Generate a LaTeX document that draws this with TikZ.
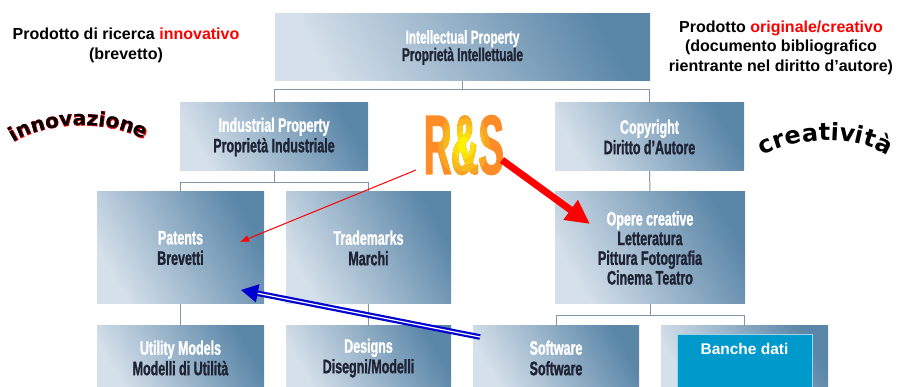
\documentclass[tikz,border=0pt]{standalone}
\usepackage{fontspec}
\setmainfont{Liberation Sans}
\newfontfamily\boxfont{Liberation Sans Bold}[FakeStretch=0.64,FakeBold=1.2]
\newfontfamily\rsfont{Liberation Sans Bold}[FakeStretch=0.45,FakeBold=1.5]
\newfontfamily\wordfont{DejaVu Sans Bold}
\newfontfamily\wordedge{DejaVu Sans Bold}[FakeBold=3]
\usetikzlibrary{arrows.meta,calc,decorations.text,shadings}

\definecolor{boxlight}{HTML}{D5E0EA}
\definecolor{boxdark}{HTML}{5A86A8}
\definecolor{linec}{HTML}{7E96A8}
\definecolor{navytext}{HTML}{1F2333}
\definecolor{dbblue}{HTML}{0099CC}
\definecolor{rsorange}{HTML}{FF8C26}
\definecolor{arrowblue}{HTML}{0000D0}

\newcommand{\eng}[1]{{\color{white}#1}}

\begin{document}
\begin{tikzpicture}[x=1pt,y=1pt,
  ipbox/.style={top color=boxdark, bottom color=boxlight, shading angle=-60, inner sep=0,
    align=center, text=navytext, font=\boxfont\fontsize{19.5}{20.5}\selectfont},
  treeline/.style={draw=linec, line width=1pt},
  note/.style={align=center, font=\bfseries\fontsize{16}{19.5}\selectfont},
  rstext/.style={inner sep=0, font=\rsfont\fontsize{84}{84}\selectfont},
  thinred/.style={draw=red, line width=1pt, -{Latex[length=9pt,width=7pt]}},
  thickred/.style={draw=red, line width=7pt, -{Triangle[length=24pt,width=23pt]}},
  bluearrow/.style={draw=arrowblue, line width=2.2pt, double=white, double distance=1.2pt,
    -{Triangle[length=17pt,width=18pt]}}]
\clip (0,0) rectangle (897,-387);

% level 1 and 2
\node[ipbox, minimum width=375, minimum height=67, font=\boxfont\fontsize{18.5}{17.5}\selectfont]
  (ip) at (462.5,-47.5) {\eng{Intellectual Property}\\Proprietà Intellettuale};
\node[ipbox, minimum width=188, minimum height=68] (ind) at (274,-137) {\eng{Industrial Property}\\Proprietà Industriale};
\node[ipbox, minimum width=189, minimum height=68] (copy) at (649.5,-137) {\eng{Copyright}\\Diritto d’Autore};

% level 3
\node[ipbox, minimum width=167, minimum height=112] (pat) at (180.5,-248) {\eng{Patents}\\Brevetti};
\node[ipbox, minimum width=165, minimum height=112] (tm) at (368.5,-248) {\eng{Trademarks}\\Marchi};
\node[ipbox, minimum width=190, minimum height=112, font=\boxfont\fontsize{19.5}{19.7}\selectfont] (op) at (650,-248)
  {\eng{Opere creative}\\Letteratura\\Pittura Fotografia\\Cinema Teatro};

% level 4
\node[ipbox, minimum width=167, minimum height=64] (util) at (180.5,-358) {\eng{Utility Models}\\Modelli di Utilità};
\node[ipbox, minimum width=165, minimum height=64] (des) at (368.5,-358) {\eng{Designs}\\Disegni/Modelli};
\node[ipbox, minimum width=166, minimum height=64] (sw) at (556,-358) {\eng{Software}\\Software};
\node[ipbox, minimum width=167, minimum height=64] (db) at (744.5,-358) {};
\node[fill=dbblue, draw=white!60!dbblue, minimum width=135, inner sep=0, text height=20, text depth=40,
  anchor=north, text=white, font=\bfseries\fontsize{15.5}{16}\selectfont]
  (dbin) at ($(db.north)+(0,-8)$) {Banche dati};

% tree
\draw[treeline] (ip.south) -- ++(0,-8) -| (ind.north);
\draw[treeline] (ip.south) -- ++(0,-8) -| (copy.north);
\draw[treeline] (ind.south) -- ++(0,-11) -| (pat.north);
\draw[treeline] (ind.south) -- ++(0,-11) -| (tm.north);
\draw[treeline] (copy.south) -- (op.north);
\draw[treeline] (pat.south) -- (util.north);
\draw[treeline] (tm.south) -- (des.north);
\draw[treeline] (op.south) -- ++(0,-11) -| (sw.north);
\draw[treeline] (op.south) -- ++(0,-11) -| (db.north);

% notes
\node[note] (lnote) at (126,-45.5) {Prodotto di ricerca {\color{red}innovativo}\\(brevetto)};
\node[note] (rnote) at (781,-47.5) {Prodotto {\color{red}originale/creativo}\\(documento bibliografico\\rientrante nel diritto d’autore)};

% word art
\path[decorate, decoration={text along path, text align=center, text color=red,
  text={|\wordedge\fontsize{20}{20}\selectfont|innovazione}}]
  (8,-146) .. controls (45,-119) and (113,-119) .. (150,-143);
\path[decorate, decoration={text along path, text align=center, text color=black,
  text={|\wordfont\fontsize{20}{20}\selectfont|innovazione}}]
  (8,-146) .. controls (45,-119) and (113,-119) .. (150,-143);
\path[decorate, decoration={text along path, text align=center, text color=black,
  text={|\wordfont\fontsize{24}{24}\selectfont|creatività}}]
  (756,-160) .. controls (790,-135) and (860,-133) .. (894,-160);

% R&S, orange to yellow in the middle
\node[rstext, text=rsorange] (rs) at (464,-145) {R\&S};
\foreach \r/\p in {32/20,26/40,20/60,14/80,8/100}{
  \begin{scope}
    \clip (rs.center) ellipse ({0.8*\r} and \r);
    \node[rstext, text=yellow!\p!rsorange] at (rs.center) {R\&S};
  \end{scope}
}

% arrows
\draw[thinred] ($(rs.center)+(-48,-25)$) -- ($(pat.center)+(59.5,6)$);
\draw[thickred] ($(rs.center)+(38,-15)$) -- ($(op.center)+(-60,24)$);
\draw[bluearrow] ($(sw.center)+(-76,21)$) -- ($(pat.center)+(60.5,-42)$);
\end{tikzpicture}
\end{document}
